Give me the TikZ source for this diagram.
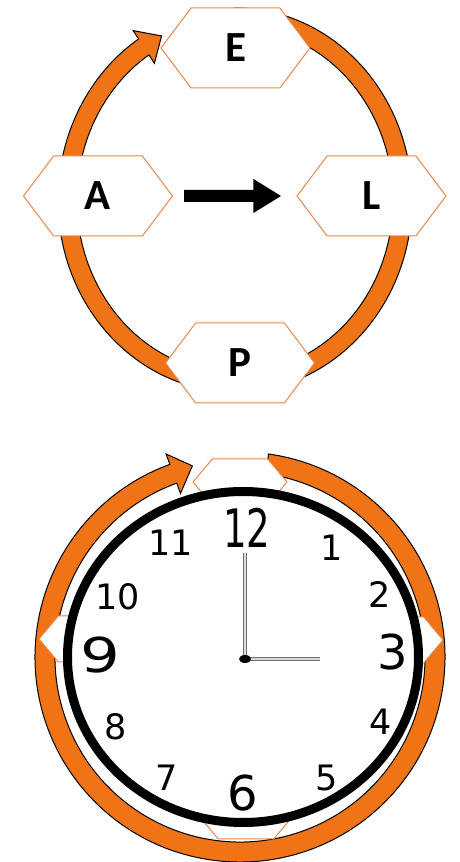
\documentclass[tikz,border=0pt]{standalone}
\usepackage{fontspec}
\newfontfamily\hexfont{Carlito}
\newfontfamily\dialfont{DejaVu Sans}
\usepackage{tikz}
\usetikzlibrary{arrows.meta, shapes.geometric, shapes.symbols}
\definecolor{ringorange}{RGB}{240,116,22}
\definecolor{hexline}{RGB}{232,136,76}
\tikzset{hexnode/.style={signal, signal to=west and east, signal pointer angle=106, draw=hexline, fill=white, line width=1pt, inner sep=0pt, minimum width=149pt, minimum height=80pt, font=\hexfont\bfseries\fontsize{43}{50}\selectfont}}
\tikzset{smallhex/.style={hexnode, minimum width=94pt, minimum height=46pt, signal pointer angle=100}}
\tikzset{ringband/.style={fill=ringorange, draw=black, line width=1pt}}
\tikzset{dial/.style={font=\dialfont\fontsize{#1}{#1}\selectfont, inner sep=0pt}}
\tikzset{hand/.style={line width=1pt, draw=black!55, double=black!15, double distance=2.4pt}}

\begin{document}
\begin{tikzpicture}[x=1pt, y=1pt]
\useasboundingbox (0,0) rectangle (460,862);
\fill[white] (0,0) rectangle (460,862);

\path[ringband] (235,854) arc[start angle=90, end angle=-237, x radius=177pt, y radius=192pt] -- ({235+187*cos(123)},{662+202*sin(123)}) -- ({235+167.5*cos(116)},{662+182.5*sin(116)}) -- ({235+148*cos(123)},{662+163*sin(123)}) -- ({235+158*cos(123)},{662+173*sin(123)}) arc[start angle=-237, end angle=90, x radius=158pt, y radius=173pt] -- cycle;
\node[hexnode] (E) at (235.5,814) {E};
\node[hexnode] (A) at (98,666) {A};
\node[hexnode] (L) at (371.5,666) {L};
\node[hexnode] (P) at (240,499) {P};
\draw[line width=12pt, -{Triangle[length=28pt, width=32pt]}, shorten <=11pt, shorten >=15pt] (A) -- (L);

\path[ringband] ({240+205*cos(82)},{205+205*sin(82)}) arc[start angle=82, end angle=-250, radius=205pt] -- ({240+216*cos(110)},{205+216*sin(110)}) -- ({240+197*cos(104)},{205+197*sin(104)}) -- ({240+174*cos(110)},{205+174*sin(110)}) -- ({240+185*cos(110)},{205+185*sin(110)}) arc[start angle=-250, end angle=82, radius=185pt] -- cycle;
\node[smallhex] (tophex) at (240,380) {};
\node[smallhex] (lefthex) at (86,223) {};
\node[smallhex] (righthex) at (396,222) {};
\node[smallhex] (bothex) at (246,46) {};
\node[ellipse, draw=black, fill=white, line width=9pt, minimum width=351pt, minimum height=331pt] (face) at (243,205) {};

\node[dial=53] (n12) at (247,334) {\scalebox{0.7}[1]{12}};
\node[dial=35] (n1) at (332,314) {1};
\node[dial=35] (n2) at (380,267) {2};
\node[dial=48] (n3) at (393,210) {3};
\node[dial=35] (n4) at (381,140) {4};
\node[dial=35] (n5) at (327,84) {5};
\node[dial=48] (n6) at (243,69) {6};
\node[dial=35] (n7) at (167,84) {7};
\node[dial=35] (n8) at (116,135) {8};
\node[dial=48] (n9) at (100,207) {\scalebox{1.3}[1]{9}};
\node[dial=35] (n10) at (118,265) {10};
\node[dial=35] (n11) at (171,319) {11};

\coordinate (pivot) at (245,203);
\coordinate (minutetip) at (245,309);
\coordinate (hourtip) at (320,203);
\draw[hand] (pivot) -- (minutetip);
\draw[hand] (pivot) -- (hourtip);
\fill[black] (pivot) ellipse[x radius=6pt, y radius=4pt];
\end{tikzpicture}
\end{document}
